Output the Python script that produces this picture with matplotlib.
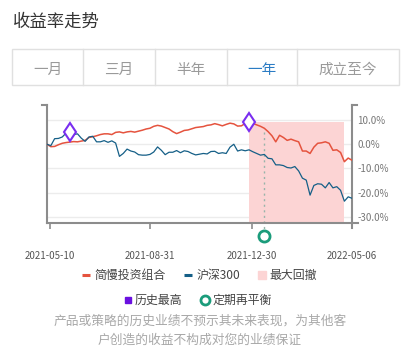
import numpy as np
import matplotlib
matplotlib.use('Agg')
from matplotlib import pyplot as plt
from matplotlib.patches import Rectangle

plt.rcParams['font.family'] = ['Noto Sans CJK SC', 'DejaVu Sans']

# trading-day index, sampled every 3 days
day = np.arange(0, 241, 3)

portfolio = [0.0, -1.0, -0.9, -0.2, 0.4, 0.7, 0.9, 1.1, 1.0, 1.3,
             1.6, 2.8, 3.1, 3.5, 4.0, 4.3, 4.3, 4.0, 4.9, 5.1,
             4.7, 5.1, 5.3, 5.0, 5.4, 5.8, 6.3, 6.6, 7.4, 7.8,
             7.5, 6.9, 6.3, 5.2, 4.4, 5.0, 5.7, 5.9, 6.4, 6.9,
             7.1, 7.3, 7.8, 8.0, 8.5, 8.1, 7.6, 8.2, 8.7, 8.4,
             7.5, 7.6, 8.6, 9.3, 8.6, 8.0, 7.4, 6.6, 5.2, 3.5,
             1.0, 3.7, 2.8, 1.6, 2.1, 1.5, 1.0, -2.8, -2.8, -3.8,
             -1.2, 0.4, 0.6, 1.0, 0.4, -2.5, -2.3, -3.4, -7.2, -5.7,
             -6.6]

hs300 = [0.0, -0.6, 2.3, 2.4, 3.0, 4.6, 5.2, 4.0, 4.3, 2.5,
         1.2, 3.0, 3.3, 1.0, 1.0, 1.5, 0.8, 1.4, 0.5, -5.0,
         -3.8, -2.0, -2.8, -3.2, -4.3, -4.5, -4.5, -4.2, -3.2, -1.1,
         -2.5, -4.3, -3.3, -3.3, -2.6, -3.5, -2.7, -3.0, -3.8, -4.4,
         -4.1, -3.8, -4.0, -3.0, -2.9, -3.8, -3.5, -3.8, -1.2, 0.0,
         -2.8, -2.3, -2.7, -2.3, -3.1, -3.8, -4.5, -4.2, -5.8, -6.0,
         -8.5, -8.5, -8.8, -9.6, -9.8, -9.2, -11.0, -14.0, -14.8, -21.0,
         -17.0, -16.3, -16.5, -18.0, -15.8, -18.0, -17.5, -19.0, -23.5, -21.7,
         -22.3]

tick_days = [2, 81, 161, 240]
tick_labels = ['2021-05-10', '2021-08-31', '2021-12-30', '2022-05-06']
y_ticks = [10, 0, -10, -20, -30]
rebalance_day = 171

tabs = ['一月', '三月', '半年', '一年', '成立至今']
selected = '一年'

c_red = '#e5533e'
c_blue = '#155f87'
c_pink = '#fcd4d4'
c_purple = '#7a2ef0'
c_green = '#1b9c7b'

portfolio = np.array(portfolio)
hs300 = np.array(hs300)

fig = plt.figure(figsize=(4.08, 3.61), dpi=100)

# overlay in pixel coordinates for header, tabs, legend
ov = fig.add_axes([0, 0, 1, 1])
ov.set_xlim(0, 408)
ov.set_ylim(361, 0)
ov.axis('off')

ov.text(13, 22, '收益率走势', fontsize=12.5, color='#333333', va='center')

edges = [12, 83, 155, 227, 297, 399]
ov.add_patch(Rectangle((12, 49), 387, 36, fill=False, ec='#e0e0e0', lw=1))
for x in edges[1:-1]:
    ov.plot([x, x], [49, 85], color='#e0e0e0', lw=1)
for i, t in enumerate(tabs):
    cx = (edges[i] + edges[i + 1]) / 2
    ov.text(cx, 70, t, fontsize=10.5, ha='center', va='center',
            color='#2b7cc4' if t == selected else '#9a9a9a')

# legend row 1
ov.plot([82, 90], [275, 275], color=c_red, lw=2.2, solid_capstyle='butt')
ov.text(94, 275, '简慢投资组合', fontsize=8.6, va='center', color='#444')
ov.plot([184, 192], [275, 275], color=c_blue, lw=2.2, solid_capstyle='butt')
ov.text(197, 275, '沪深300', fontsize=8.6, va='center', color='#444')
ov.plot(262, 275, marker='s', ms=6, color=c_pink, ls='')
ov.text(269, 275, '最大回撤', fontsize=8.6, va='center', color='#444')
# legend row 2
ov.plot(127.5, 300, marker='s', ms=5, color='#6a10e0', ls='')
ov.text(135, 300, '历史最高', fontsize=8.6, va='center', color='#444')
ov.plot(205, 300, marker='o', ms=6.5, mfc='white', mec=c_green, mew=2, ls='')
ov.text(213, 300, '定期再平衡', fontsize=8.6, va='center', color='#444')

ov.text(200, 321, '产品或策略的历史业绩不预示其未来表现，为其他客', fontsize=9.2,
        ha='center', va='center', color='#a8a8a8')
ov.text(200, 340, '户创造的收益不构成对您的业绩保证', fontsize=9.2,
        ha='center', va='center', color='#a8a8a8')

# chart
ax = fig.add_axes([47 / 408, 1 - 223 / 361, 305 / 408, 118 / 361])
ax.set_facecolor('none')
ylo, yhi = -32.5, 16.2
ax.set_xlim(0, 240)
ax.set_ylim(ylo, yhi)

for v in y_ticks:
    ax.axhline(v, color='#ececec', lw=1, zorder=0.5)

i0 = int(np.argmax(portfolio))
i1 = i0 + int(np.argmin(portfolio[i0:]))
ax.fill_between([day[i0], day[i1]], ylo, portfolio[i0], color=c_pink, lw=0, zorder=1)

ax.plot(day, portfolio, color=c_red, lw=1.1, zorder=3)
ax.plot(day, hs300, color=c_blue, lw=0.9, zorder=3)

# historical highs
j = int(np.argmax(hs300))
ax.plot(day[j], hs300[j], marker='d', ms=9.5, mfc='white', mec=c_purple, mew=1.5, zorder=4)
ax.plot(day[i0], portfolio[i0], marker='d', ms=9.5, mfc='white', mec=c_purple, mew=1.5, zorder=4)

# rebalance
k = int(np.searchsorted(day, rebalance_day))
y_circle = ylo - (yhi - ylo) * 13 / 118
ax.plot([day[k], day[k]], [portfolio[k] - 1.5, y_circle], ls=(0, (1.5, 2.5)),
        color='#98b4aa', lw=1, clip_on=False, zorder=2)
ax.plot(day[k], y_circle, marker='o', ms=8, mfc='white', mec=c_green, mew=2,
        clip_on=False, zorder=5)

for s in ['top']:
    ax.spines[s].set_visible(False)
for s in ['left', 'right', 'bottom']:
    ax.spines[s].set_color('#8c8c8c')
    ax.spines[s].set_linewidth(1.5)
ax.spines['bottom'].set_bounds(0, 240 + 6 * 240 / 305)
ax.spines['right'].set_bounds(ylo - 5 * (yhi - ylo) / 118, yhi)
ax.plot([-5 * 240 / 305, 0], [yhi, yhi], color='#8c8c8c', lw=1.5, clip_on=False)
ax.plot([240, 240 + 5 * 240 / 305], [yhi, yhi], color='#8c8c8c', lw=1.5, clip_on=False)

ax.yaxis.tick_right()
ax.set_yticks(y_ticks)
ax.set_yticklabels([f'{v:.1f}%' for v in y_ticks])
ax.tick_params(axis='y', length=0, pad=4, labelsize=7, labelcolor='#777777')

ax.set_xticks(tick_days)
ax.set_xticklabels(tick_labels)
ax.tick_params(axis='x', length=4, width=1.2, color='#8c8c8c', pad=16,
               labelsize=7, labelcolor='#555555')

fig.savefig('out.png', dpi=100)
